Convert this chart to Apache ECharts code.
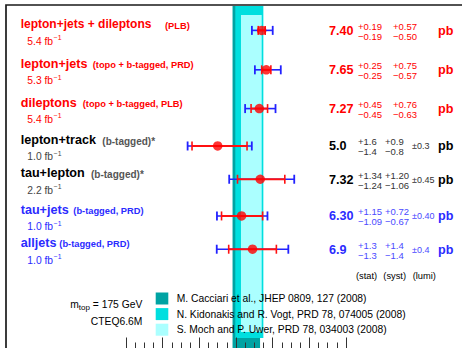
<!DOCTYPE html>
<html>
<head>
<meta charset="utf-8">
<script src="https://cdn.jsdelivr.net/npm/echarts@6/dist/echarts.min.js"></script>
<style>
html,body{margin:0;padding:0;background:#fff;}
#chart{width:462px;height:348px;}
</style>
</head>
<body>
<div id="chart"></div>
<script>
// ---------------- data ----------------
const channels = ['lepton+jets + dileptons', 'lepton+jets', 'dileptons', 'lepton+track', 'tau+lepton', 'tau+jets', 'alljets'];
const channelNotes = ['(PLB)', '(topo + b-tagged, PRD)', '(topo + b-tagged, PLB)', '(b-tagged)*', '(b-tagged)*', '(b-tagged, PRD)', '(b-tagged, PRD)'];
const luminosity = ['5.4', '5.3', '5.4', '1.0', '2.2', '1.0', '1.0'];
const xsec = [7.40, 7.65, 7.27, 5.0, 7.32, 6.30, 6.9];
const decimals = [2, 2, 2, 1, 2, 2, 1];
const statUp = [0.19, 0.25, 0.45, 1.6, 1.34, 1.15, 1.3];
const statDown = [0.19, 0.25, 0.45, 1.4, 1.24, 1.09, 1.3];
const systUp = [0.57, 0.75, 0.76, 0.9, 1.20, 0.72, 1.4];
const systDown = [0.50, 0.57, 0.63, 0.8, 1.06, 0.67, 1.4];
const lumiErr = [null, null, null, 0.3, 0.45, 0.40, 0.4];
const theoryNames = ['M. Cacciari et al., JHEP 0809, 127 (2008)', 'N. Kidonakis and R. Vogt, PRD 78, 074005 (2008)', 'S. Moch and P. Uwer, PRD 78, 034003 (2008)'];
const theoryLow = [5.81, 5.96, 6.27];
const theoryHigh = [7.31, 7.49, 7.40];
const columnHeaders = ['(stat)', '(syst)', '(lumi)'];
const massLabel = ['m', 'top', ' = 175 GeV'];
const pdfLabel = 'CTEQ6.6M';

// ---------------- layout / style ----------------
const rowY = [9.26, 8.11, 6.98, 5.89, 4.92, 3.85, 2.88];
const rowGroup = ['red', 'red', 'red', 'black', 'black', 'blue', 'blue'];
const titleSize = [12, 12.6, 12.6, 12.6, 12.6, 12.6, 12.6];
const noteX = [165, 92.7, 82.7, 102.3, 91, 73.3, 59.3];
const bandColors = ['#00a3a3', '#00dfdf', '#abffff'];
const bandInset = [[1, 0], [1, 10], [10, 16]];
const FONT = '"Liberation Sans", Arial, Helvetica, sans-serif';
const palette = {
  red:   {title: '#ff0000', note: '#ff0000', noteSize: 9.3, lumi: '#ff0000', value: '#ff0000', err: '#ff0000'},
  black: {title: '#000000', note: '#555555', noteSize: 10, lumi: '#444444', value: '#000000', err: '#333333'},
  blue:  {title: '#2b2bff', note: '#2b2bff', noteSize: 9.3, lumi: '#2b2bff', value: '#2b2bff', err: '#4a4aff'}
};

const mctx = document.createElement('canvas').getContext('2d');
function textWidth(t, size, weight) {
  mctx.font = (weight || 'normal') + ' ' + size + 'px ' + FONT;
  return mctx.measureText(t).width;
}
function txt(x, y, text, size, color, bold, align) {
  return {
    type: 'text', x: x, y: y, silent: true,
    style: {text: text, fontSize: size, fontWeight: bold ? 'bold' : 'normal', fontFamily: FONT,
            fill: color, align: align || 'left', verticalAlign: 'middle'}
  };
}

const chart = echarts.init(document.getElementById('chart'), null, {renderer: 'svg'});

function renderBand(k) {
  return function (params, api) {
    const a = api.coord([api.value(0), 10]);
    const b = api.coord([api.value(1), 0]);
    return {
      type: 'rect', silent: true,
      shape: {x: a[0], y: a[1] + bandInset[k][0], width: b[0] - a[0], height: b[1] - a[1] - bandInset[k][0] - bandInset[k][1]},
      style: {fill: bandColors[k]}
    };
  };
}

function renderErr(params, api) {
  const i = params.dataIndex;
  const c = xsec[i], y = rowY[i];
  const l = lumiErr[i] || 0;
  const tUp = Math.hypot(statUp[i], systUp[i], l);
  const tDn = Math.hypot(statDown[i], systDown[i], l);
  const a = api.coord([c - tDn, y]), b = api.coord([c + tUp, y]);
  const s1 = api.coord([c - statDown[i], y]), s2 = api.coord([c + statUp[i], y]);
  const yy = a[1], cap = 4.5;
  const blue = '#2222ff', red = '#ff1010';
  const line = (x1, y1, x2, y2, col, w) => ({type: 'line', silent: true, shape: {x1, y1, x2, y2}, style: {stroke: col, lineWidth: w}});
  return {type: 'group', children: [
    line(a[0], yy, b[0], yy, blue, 1.6),
    line(a[0], yy - cap, a[0], yy + cap, blue, 1.8),
    line(b[0], yy - cap, b[0], yy + cap, blue, 1.8),
    line(s1[0], yy, s2[0], yy, red, 2),
    line(s1[0], yy - cap, s1[0], yy + cap, red, 1.6),
    line(s2[0], yy - cap, s2[0], yy + cap, red, 1.6)
  ]};
}

function renderLabels(params, api) {
  const i = params.dataIndex;
  const yc = api.coord([0, rowY[i]])[1];
  const p = palette[rowGroup[i]];
  const f = v => v.toFixed(decimals[i]);
  const ch = [];
  ch.push(txt(20.7, yc - 6, channels[i], titleSize[i], p.title, true));
  ch.push(txt(noteX[i], yc - 4.8, channelNotes[i], p.noteSize, p.note, true));
  const lum = luminosity[i] + ' fb';
  ch.push(txt(27.3, yc + 11, lum, 10.3, p.lumi));
  ch.push(txt(27.3 + textWidth(lum, 10.3) + 0.6, yc + 7.2, '\u22121', 6.8, p.lumi));
  ch.push(txt(329, yc + 0.5, f(xsec[i]), 12.6, p.value, true));
  ch.push(txt(358, yc - 4, '+' + f(statUp[i]), 9.5, p.err));
  ch.push(txt(358, yc + 6, '\u2212' + f(statDown[i]), 9.5, p.err));
  const sx = lumiErr[i] == null ? 393 : 385;
  ch.push(txt(sx, yc - 4, '+' + f(systUp[i]), 9.5, p.err));
  ch.push(txt(sx, yc + 6, '\u2212' + f(systDown[i]), 9.5, p.err));
  if (lumiErr[i] != null) ch.push(txt(412, yc + 0.5, '\u00b1' + f(lumiErr[i]), 9, p.err));
  ch.push(txt(438, yc + 0.5, 'pb', 12.6, p.value, true));
  return {type: 'group', children: ch};
}

const bandSeries = theoryNames.map((name, k) => ({
  type: 'custom', name: name, coordinateSystem: 'cartesian2d',
  data: [[theoryLow[k], theoryHigh[k], 5]],
  encode: {x: [0, 1], y: 2},
  itemStyle: {color: bandColors[k]},
  renderItem: renderBand(k), z: 1 + k * 0.1, silent: true, animation: false
}));

const rowData = xsec.map((v, i) => [v, rowY[i]]);

// mass label, right aligned at x=142.3
const mW = [textWidth(massLabel[0], 10.3), textWidth(massLabel[1], 8), textWidth(massLabel[2], 10.3)];
const mX0 = 142.3 - (mW[0] + mW[1] + mW[2]);

const option = {
  animation: false,
  grid: {left: 126, top: 5, width: 220.06, height: 345, containLabel: false},
  xAxis: {
    type: 'value', min: 0, max: 12, interval: 2, z: 10,
    axisLine: {show: true, lineStyle: {color: '#000', width: 1}},
    axisTick: {show: true, inside: true, length: 10.5, lineStyle: {color: '#333', width: 1}},
    minorTick: {show: true, splitNumber: 4, length: 5.5, lineStyle: {color: '#333', width: 1}},
    axisLabel: {show: false}, splitLine: {show: false}
  },
  yAxis: {type: 'value', min: 0, max: 10, show: false, splitLine: {show: false}},
  legend: {
    orient: 'vertical', left: 150.7, top: 287.5, itemWidth: 12.6, itemHeight: 12, itemGap: 3.6,
    icon: 'rect', selectedMode: false, data: theoryNames,
    textStyle: {fontSize: 10.3, color: '#000', fontFamily: FONT, padding: [0, 0, 0, 3.4]}
  },
  graphic: [
    {type: 'rect', z: 100, silent: true, shape: {x: 6, y: 5, width: 600, height: 500}, style: {fill: 'none', stroke: '#1a1a1a', lineWidth: 1.7}},
    Object.assign(txt(356, 275.7, columnHeaders[0], 9.3, '#000'), {z: 50}),
    Object.assign(txt(383.3, 275.7, columnHeaders[1], 9.3, '#000'), {z: 50}),
    Object.assign(txt(412.7, 275.7, columnHeaders[2], 9.3, '#000'), {z: 50}),
    Object.assign(txt(mX0, 304.3, massLabel[0], 10.3, '#000'), {z: 50}),
    Object.assign(txt(mX0 + mW[0], 307.3, massLabel[1], 8, '#000'), {z: 50}),
    Object.assign(txt(mX0 + mW[0] + mW[1], 304.3, massLabel[2], 10.3, '#000'), {z: 50}),
    Object.assign(txt(142.3, 321, pdfLabel, 10.3, '#000', false, 'right'), {z: 50})
  ],
  series: bandSeries.concat([
    {type: 'custom', name: 'errors', coordinateSystem: 'cartesian2d', data: rowData, encode: {x: 0, y: 1},
     renderItem: renderErr, z: 3, silent: true},
    {type: 'scatter', name: 'measurements', data: rowData, symbol: 'circle', symbolSize: 9.5,
     itemStyle: {color: '#ff0000'}, z: 4, silent: true},
    {type: 'custom', name: 'labels', coordinateSystem: 'cartesian2d', data: rowData, encode: {x: 0, y: 1},
     renderItem: renderLabels, z: 5, silent: true}
  ])
};
chart.setOption(option);
</script>
</body>
</html>
